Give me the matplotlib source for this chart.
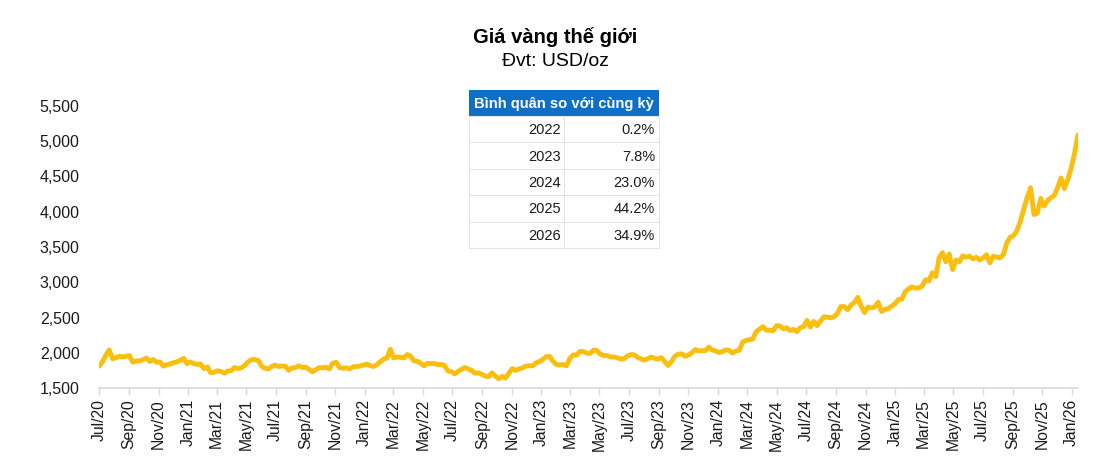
import matplotlib
matplotlib.use("Agg")
import matplotlib.pyplot as plt
import matplotlib.dates as mdates
from matplotlib.patches import Rectangle
from matplotlib.ticker import FuncFormatter
import pandas as pd

plt.rcParams['font.family'] = ['Liberation Sans', 'DejaVu Sans']

# weekly readings of the gold price line (USD/oz), starting at the Jul/20 tick
PRICE_2020 = [1810, 1870, 1960, 2040, 1915, 1930, 1950, 1940, 1950, 1960, 1865, 1885,
              1885, 1900, 1925, 1875, 1905, 1865, 1870, 1810, 1830, 1840, 1860, 1870, 1895]
PRICE_2021 = [1920, 1845, 1870, 1845, 1835, 1840, 1775, 1800, 1715, 1725, 1745, 1735, 1710,
              1740, 1745, 1790, 1775, 1785, 1820, 1870, 1900, 1905, 1890, 1810, 1780, 1770,
              1805, 1825, 1805, 1810, 1810, 1750, 1785, 1790, 1815, 1790, 1795, 1765, 1730,
              1760, 1790, 1785, 1795, 1770, 1850, 1865, 1790, 1780, 1785, 1770, 1800, 1805]
PRICE_2022 = [1810, 1825, 1840, 1820, 1805, 1830, 1870, 1910, 1925, 2050, 1925, 1940, 1935,
              1925, 1975, 1950, 1885, 1880, 1850, 1815, 1850, 1845, 1850, 1830, 1835, 1820,
              1740, 1735, 1700, 1735, 1765, 1790, 1770, 1750, 1710, 1715, 1695, 1670, 1660,
              1715, 1670, 1630, 1665, 1640, 1710, 1775, 1750, 1770, 1785, 1810, 1815, 1815]
PRICE_2023 = [1855, 1875, 1905, 1945, 1950, 1880, 1835, 1825, 1835, 1815, 1920, 1970, 1965,
              2020, 2015, 1995, 1990, 2040, 2030, 1980, 1960, 1960, 1940, 1940, 1930, 1910,
              1915, 1955, 1975, 1970, 1935, 1915, 1895, 1915, 1940, 1920, 1910, 1930, 1875,
              1820, 1875, 1950, 1980, 1985, 1950, 1965, 2000, 2045, 2025, 2030, 2030, 2080]
PRICE_2024 = [2040, 2025, 2005, 2015, 2040, 2035, 1995, 2025, 2035, 2150, 2175, 2185, 2195,
              2300, 2335, 2370, 2320, 2320, 2310, 2385, 2380, 2340, 2355, 2315, 2330, 2300,
              2355, 2370, 2460, 2365, 2445, 2385, 2450, 2510, 2505, 2495, 2510, 2560, 2655,
              2655, 2610, 2675, 2715, 2785, 2660, 2570, 2650, 2635, 2650, 2715, 2585, 2615]
PRICE_2025 = [2625, 2660, 2695, 2755, 2760, 2865, 2905, 2935, 2915, 2920, 2945, 3035, 3020,
              3135, 3080, 3345, 3420, 3290, 3400, 3180, 3315, 3290, 3375, 3355, 3370, 3330,
              3355, 3315, 3345, 3390, 3275, 3370, 3355, 3345, 3395, 3560, 3640, 3660, 3735,
              3865, 4040, 4200, 4340, 3960, 3980, 4190, 4080, 4160, 4200, 4230, 4340, 4480, 4330]
PRICE_2026 = [4460, 4620, 4830, 5090]

PRICES = PRICE_2020 + PRICE_2021 + PRICE_2022 + PRICE_2023 + PRICE_2024 + PRICE_2025 + PRICE_2026
DATES = pd.date_range('2020-07-01', periods=len(PRICES), freq='7D')

TABLE_HEADER = 'Bình quân so với cùng kỳ'
TABLE_YEARS = ['2022', '2023', '2024', '2025', '2026']
TABLE_PCT = ['0.2%', '7.8%', '23.0%', '44.2%', '34.9%']

W, H = 1111, 465
FIG = plt.figure(figsize=(W / 100, H / 100), dpi=100)
AX = FIG.add_axes([99 / W, 1 - 388 / H, (1078 - 99) / W, (388 - 106) / H])

AX.plot(DATES, PRICES, color='#F9BE0E', linewidth=3.5, solid_capstyle='round',
        solid_joinstyle='round')

AX.set_ylim(1500, 5500)
AX.set_yticks(range(1500, 5501, 500))
AX.yaxis.set_major_formatter(FuncFormatter(lambda v, p: '{:,.0f}'.format(v)))
AX.set_xlim(DATES[0], DATES[-1])
AX.xaxis.set_major_locator(mdates.MonthLocator(bymonth=[1, 3, 5, 7, 9, 11]))
AX.xaxis.set_major_formatter(mdates.DateFormatter('%b/%y'))

for s in ['left', 'right', 'top']:
    AX.spines[s].set_visible(False)
AX.spines['bottom'].set_color('#d9d9d9')
AX.spines['bottom'].set_linewidth(1.2)

AX.tick_params(axis='y', length=0, pad=14, labelsize=11.5, labelcolor='#1a1a1a')
AX.tick_params(axis='x', length=5, width=1, color='#d9d9d9', pad=3,
               labelsize=11.3, labelcolor='#1a1a1a', labelrotation=90)
for lbl in AX.get_xticklabels():
    lbl.set_verticalalignment('top')

# titles
FIG.text(555 / W, 1 - 37 / H, 'Giá vàng thế giới', ha='center', va='center',
         fontsize=14.5, fontweight='bold', color='#000000')
FIG.text(555 / W, 1 - 61 / H, 'Đvt: USD/oz', ha='center', va='center',
         fontsize=14, color='#000000')

# little table in the middle of the chart
def px(x, y):
    return x / W, 1 - y / H

T_LEFT, T_MID, T_RIGHT = 469, 564, 659
HEAD_TOP, HEAD_BOT = 90, 116
ROW_H = 26.4

FIG.add_artist(Rectangle(px(T_LEFT, HEAD_BOT), (T_RIGHT - T_LEFT) / W, (HEAD_BOT - HEAD_TOP) / H,
                         facecolor='#0F6FC6', edgecolor='none', transform=FIG.transFigure))
FIG.text(*px((T_LEFT + T_RIGHT) / 2, (HEAD_TOP + HEAD_BOT) / 2 + 1), TABLE_HEADER,
         ha='center', va='center', fontsize=10.6, fontweight='bold', color='white')

n_rows = len(TABLE_YEARS)
bottom = HEAD_BOT + ROW_H * n_rows
FIG.add_artist(Rectangle(px(T_LEFT, bottom), (T_RIGHT - T_LEFT) / W, (bottom - HEAD_BOT) / H,
                         facecolor='white', edgecolor='#e3e3e3', linewidth=0.8,
                         transform=FIG.transFigure))
for i in range(1, n_rows):
    yy = HEAD_BOT + ROW_H * i
    FIG.add_artist(plt.Line2D([T_LEFT / W, T_RIGHT / W], [1 - yy / H] * 2,
                              color='#e3e3e3', linewidth=0.8, transform=FIG.transFigure))
FIG.add_artist(plt.Line2D([T_MID / W] * 2, [1 - HEAD_BOT / H, 1 - bottom / H],
                          color='#e3e3e3', linewidth=0.8, transform=FIG.transFigure))
for i, (yr, pc) in enumerate(zip(TABLE_YEARS, TABLE_PCT)):
    yc = HEAD_BOT + ROW_H * (i + 0.5) + 1
    FIG.text(*px(T_MID - 3, yc), yr, ha='right', va='center', fontsize=10.5, color='#1a1a1a')
    FIG.text(*px(T_RIGHT - 4, yc), pc, ha='right', va='center', fontsize=10.5, color='#1a1a1a')

FIG.savefig('out.png', dpi=100)
